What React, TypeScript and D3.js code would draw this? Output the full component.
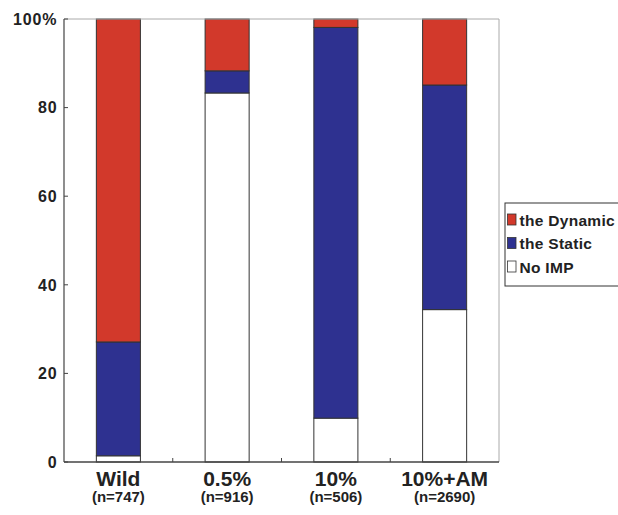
import React from "react";
import * as d3 from "d3";

const categories = ["Wild", "0.5%", "10%", "10%+AM"];
const nLabels = ["(n=747)", "(n=916)", "(n=506)", "(n=2690)"];
const noImp = [1.4, 83.3, 9.9, 34.4];
const staticVals = [25.7, 5.0, 88.2, 50.7];
const dynamicVals = [72.9, 11.7, 1.9, 14.9];
const yTicks = [0, 20, 40, 60, 80, 100];
const seriesNames = ["the Dynamic", "the Static", "No IMP"];
const seriesColors = ["#d2392b", "#2e3190", "#ffffff"];

export default function App() {
  const W = 618, H = 515;
  const left = 64, right = 499, top = 19, bottom = 462;
  const x = d3.scaleBand<string>().domain(categories).range([left, right]).paddingInner(0.595).paddingOuter(0.2975);
  const y = d3.scaleLinear().domain([0, 100]).range([bottom, top]);
  const rows = categories.map((c, i) => ({ cat: c, noImp: noImp[i], stat: staticVals[i], dyn: dynamicVals[i] }));
  const stack = d3.stack<any>().keys(["noImp", "stat", "dyn"])(rows);
  const fills: Record<string, string> = { noImp: "#ffffff", stat: "#2e3190", dyn: "#d2392b" };
  const step = (right - left) / categories.length;
  const font = "'Liberation Sans', Arial, Helvetica, sans-serif";
  return (
    <svg width={W} height={H} style={{ position: "absolute", left: 0, top: 0 }} fontFamily={font}>
      <rect width={W} height={H} fill="#fff" />
      {stack.map((s) =>
        s.map((d, i) => {
          const y0 = y(Math.min(d[1], 100));
          const y1 = y(d[0]);
          return (
            <rect key={s.key + i} x={x(categories[i])} y={y0} width={x.bandwidth()} height={y1 - y0}
              fill={fills[s.key]} stroke="#333" strokeWidth={1} />
          );
        })
      )}
      <line x1={left} x2={right} y1={top} y2={top} stroke="#aaa" strokeWidth={1} />
      <line x1={right} x2={right} y1={top} y2={bottom} stroke="#aaa" strokeWidth={1} />
      <line x1={left} x2={left} y1={top} y2={bottom} stroke="#444" strokeWidth={1.2} />
      <line x1={left} x2={right} y1={bottom} y2={bottom} stroke="#444" strokeWidth={1.5} />
      {yTicks.map((t) => (
        <g key={t}>
          <line x1={left} x2={left + 4} y1={y(t)} y2={y(t)} stroke="#444" />
          <text x={57.5} y={y(t)} dy="0.36em" textAnchor="end" fontSize={16} letterSpacing={0.9} fontWeight="bold" fill="#222">
            {t === 100 ? "100%" : t}
          </text>
        </g>
      ))}
      {[1, 2, 3].map((k) => (
        <line key={k} x1={left + step * k} x2={left + step * k} y1={bottom} y2={bottom - 4} stroke="#444" />
      ))}
      {categories.map((c, i) => (
        <g key={c}>
          <text x={x(c)! + x.bandwidth() / 2} y={485.5} textAnchor="middle" fontSize={21} fontWeight="bold" fill="#222">{c}</text>
          <text x={x(c)! + x.bandwidth() / 2} y={502} textAnchor="middle" fontSize={15} fontWeight="bold" fill="#222">{nLabels[i]}</text>
        </g>
      ))}
      <rect x={505} y={203} width={120} height={83} fill="#fff" stroke="#333" strokeWidth={1} />
      {seriesNames.map((n, i) => (
        <g key={n}>
          <rect x={507.5} y={214 + i * 23.5} width={8.5} height={11} fill={seriesColors[i]} stroke="#333" strokeWidth={0.8} />
          <text x={519.5} y={225.7 + i * 23.5} fontSize={15.5} letterSpacing={0.3} fontWeight="bold" fill="#222">{n}</text>
        </g>
      ))}
    </svg>
  );
}
